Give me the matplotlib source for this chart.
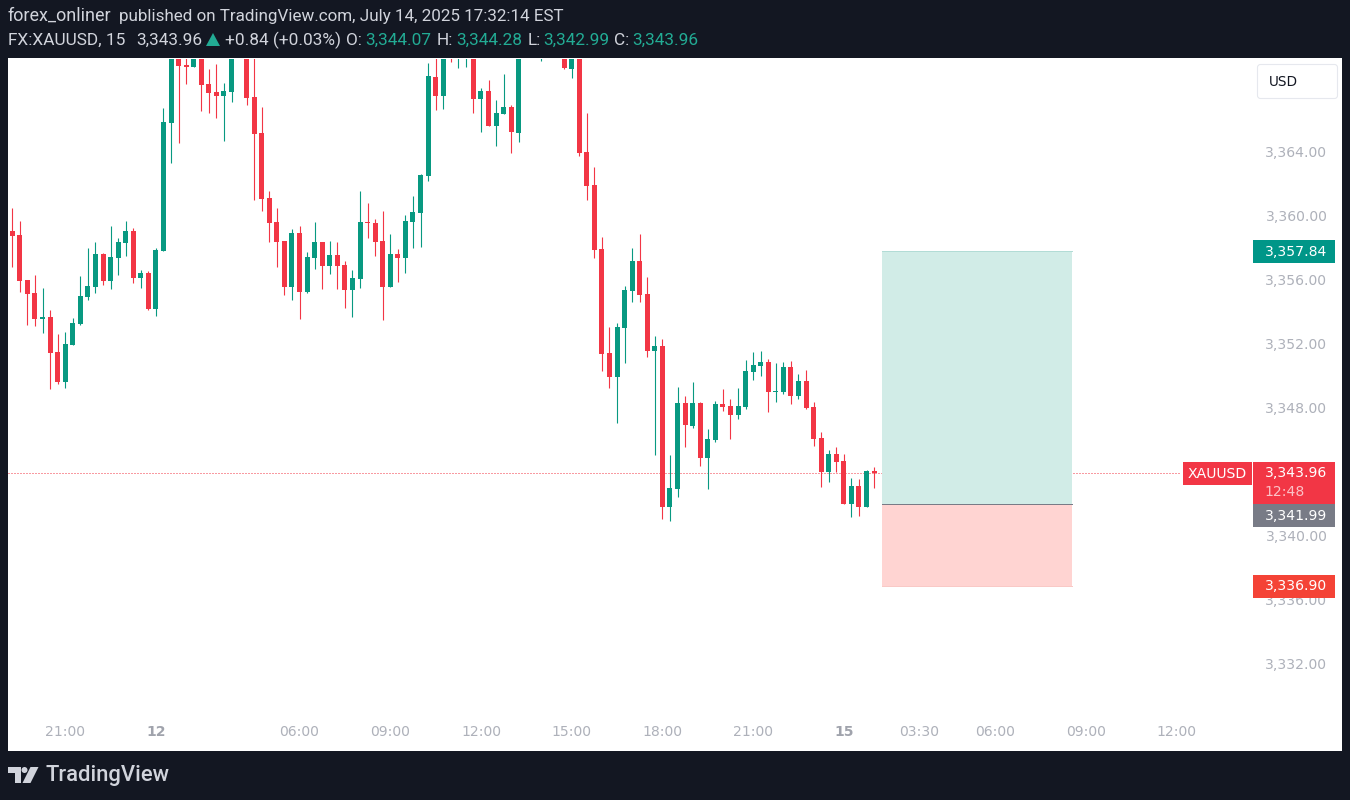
import matplotlib
matplotlib.use('Agg')
import matplotlib.pyplot as plt
from matplotlib.patches import Rectangle, Polygon, Circle, FancyBboxPatch

plt.rcParams['font.family'] = ['Roboto', 'DejaVu Sans']

# candles. bars above the top edge are rough guesses
opens = [3359.06, 3358.81, 3356.00, 3355.19, 3353.56, 3353.69, 3351.50, 3349.63, 3351.94, 3353.25,
         3354.94, 3355.56, 3357.63, 3355.94, 3357.38, 3358.31, 3359.06, 3356.13, 3356.44, 3354.19,
         3357.81, 3365.81, 3371.00, 3369.44, 3369.31, 3370.80, 3368.25, 3367.75, 3367.50, 3367.75,
         3371.00, 3371.40, 3367.44, 3365.19, 3361.13, 3359.63, 3358.44, 3355.56, 3358.94, 3355.25,
         3357.38, 3358.38, 3356.88, 3357.56, 3356.94, 3355.38, 3356.06, 3359.63, 3359.56, 3358.44,
         3355.56, 3357.63, 3357.38, 3359.63, 3360.19, 3362.50, 3368.69, 3367.50, 3371.40, 3370.60,
         3370.80, 3371.20, 3367.31, 3367.81, 3365.63, 3366.38, 3366.81, 3365.19, 3371.00, 3371.60,
         3370.60, 3371.00, 3371.60, 3371.00, 3369.19, 3371.00, 3364.00, 3361.94, 3357.94, 3351.44,
         3349.94, 3353.00, 3355.31, 3357.19, 3355.13, 3351.56, 3351.88, 3341.81, 3342.94, 3348.31,
         3346.88, 3348.31, 3344.88, 3346.00, 3348.25, 3348.13, 3347.56, 3348.06, 3350.25, 3350.63,
         3350.88, 3349.00, 3349.00, 3350.56, 3348.75, 3349.69, 3348.06, 3346.13, 3344.00, 3345.13,
         3344.69, 3342.00, 3343.13, 3341.81, 3344.07]
highs = [3360.50, 3359.69, 3356.00, 3356.31, 3355.50, 3354.13, 3352.63, 3352.75, 3353.63, 3356.25,
         3358.00, 3358.38, 3357.69, 3359.38, 3358.63, 3359.69, 3359.25, 3356.63, 3356.56, 3358.00,
         3366.75, 3371.60, 3371.60, 3370.50, 3371.00, 3371.20, 3369.19, 3369.50, 3368.31, 3371.40,
         3372.00, 3371.80, 3370.50, 3366.81, 3361.56, 3360.50, 3358.44, 3359.19, 3359.38, 3357.75,
         3359.63, 3358.38, 3358.44, 3358.38, 3357.19, 3356.63, 3361.56, 3360.81, 3359.81, 3360.31,
         3358.88, 3357.94, 3360.06, 3361.25, 3362.63, 3369.56, 3370.50, 3371.20, 3371.80, 3371.80,
         3372.00, 3371.80, 3368.00, 3368.50, 3367.25, 3368.88, 3366.94, 3371.40, 3372.00, 3372.00,
         3371.60, 3372.00, 3372.00, 3371.40, 3371.20, 3371.40, 3366.44, 3363.06, 3358.69, 3353.06,
         3353.31, 3355.63, 3358.00, 3358.88, 3356.19, 3352.50, 3352.31, 3345.06, 3349.31, 3348.75,
         3349.63, 3348.38, 3346.69, 3348.44, 3349.19, 3348.56, 3349.25, 3351.00, 3351.50, 3351.56,
         3351.06, 3350.81, 3350.88, 3350.94, 3350.13, 3350.38, 3348.38, 3346.50, 3345.38, 3345.56,
         3345.13, 3343.63, 3343.56, 3344.13, 3344.28]
lows = [3356.81, 3355.25, 3353.19, 3353.13, 3352.69, 3349.19, 3349.50, 3349.25, 3351.94, 3353.19,
        3354.75, 3355.19, 3355.69, 3355.44, 3356.31, 3357.50, 3355.81, 3355.50, 3354.13, 3353.75,
        3357.81, 3363.31, 3364.56, 3368.25, 3369.31, 3366.56, 3366.44, 3366.13, 3364.69, 3367.13,
        3370.50, 3366.94, 3361.00, 3360.31, 3358.38, 3356.81, 3355.06, 3354.75, 3353.56, 3355.19,
        3356.69, 3355.44, 3356.38, 3355.44, 3354.25, 3353.69, 3355.50, 3358.63, 3357.50, 3353.50,
        3355.56, 3355.88, 3356.44, 3358.00, 3358.06, 3362.19, 3366.63, 3366.69, 3369.63, 3369.25,
        3369.31, 3366.44, 3365.25, 3365.63, 3364.38, 3366.38, 3363.94, 3364.63, 3370.40, 3370.40,
        3369.69, 3370.40, 3370.40, 3369.19, 3368.63, 3363.75, 3361.00, 3357.38, 3350.31, 3349.25,
        3347.06, 3350.81, 3354.63, 3354.63, 3351.19, 3345.06, 3341.06, 3340.94, 3342.44, 3345.56,
        3346.75, 3344.38, 3342.94, 3345.88, 3347.81, 3346.06, 3347.31, 3347.94, 3349.75, 3350.00,
        3347.75, 3348.38, 3348.88, 3348.25, 3348.56, 3347.94, 3345.63, 3343.06, 3343.38, 3344.00,
        3342.00, 3341.19, 3341.25, 3341.81, 3342.99]
closes = [3358.75, 3355.94, 3355.13, 3353.56, 3353.69, 3351.44, 3349.63, 3352.00, 3353.31, 3355.00,
          3355.63, 3357.63, 3355.94, 3357.44, 3358.38, 3359.06, 3356.13, 3356.44, 3354.19, 3357.88,
          3365.88, 3371.00, 3369.38, 3369.31, 3370.60, 3368.19, 3367.69, 3367.50, 3367.81, 3371.00,
          3371.60, 3367.38, 3365.13, 3361.06, 3359.56, 3358.38, 3355.56, 3358.94, 3355.25, 3357.44,
          3358.38, 3356.88, 3357.56, 3356.88, 3355.38, 3356.13, 3359.63, 3359.56, 3358.38, 3355.56,
          3357.63, 3357.38, 3359.69, 3360.25, 3362.56, 3368.75, 3367.50, 3370.80, 3370.60, 3371.40,
          3371.60, 3367.31, 3367.81, 3365.63, 3366.44, 3366.81, 3365.25, 3371.00, 3371.60, 3371.00,
          3371.20, 3371.60, 3371.00, 3369.25, 3370.80, 3363.94, 3361.88, 3357.88, 3351.38, 3349.94,
          3353.06, 3355.38, 3357.19, 3355.06, 3351.56, 3351.88, 3341.81, 3343.00, 3348.31, 3346.94,
          3348.31, 3344.88, 3346.06, 3348.25, 3348.06, 3347.56, 3348.13, 3350.31, 3350.69, 3350.88,
          3349.00, 3349.06, 3350.56, 3348.75, 3349.69, 3348.00, 3346.06, 3344.00, 3345.13, 3344.63,
          3342.00, 3343.13, 3341.81, 3344.06, 3343.96]

price_ticks = [3332, 3336, 3340, 3344, 3348, 3352, 3356, 3360, 3364]
price_labels = ['3,332.00', '3,336.00', '3,340.00', '', '3,348.00', '3,352.00', '3,356.00', '3,360.00', '3,364.00']
time_bars = [7, 19, 38, 50, 62, 74, 86, 98, 110, 120, 130, 142, 154]
time_labels = ['21:00', '12', '06:00', '09:00', '12:00', '15:00', '18:00', '21:00', '15', '03:30', '06:00', '09:00', '12:00']

last_price = 3343.96
target_price = 3357.84
entry_price = 3341.99
stop_price = 3336.90

DARK = '#131722'
UP = '#089981'
DOWN = '#f23645'
AXIS_FONT = 'DejaVu Sans'
W, H = 1350, 800

fig = plt.figure(figsize=(13.5, 8), dpi=100, facecolor=DARK)
ax = fig.add_axes([8 / W, 1 - 751 / H, 1334 / W, 693 / H], facecolor='white')
ax.set_xlim(-0.569, 175.9)
ax.set_ylim(3326.56, 3369.875)

# dotted last price line and the long position box
ax.plot([-0.569, 154.6], [last_price, last_price], color=DOWN, lw=0.72, ls=(0, (1, 2)), zorder=1)
ax.fill_between([115.0, 140.2], entry_price, target_price, color='#d1ece7', lw=0, zorder=1.5)
ax.fill_between([115.0, 140.2], stop_price, entry_price, color='#ffd4d2', lw=0, zorder=1.5)
ax.plot([115.0, 140.2], [target_price, target_price], color='#b2dcd6', lw=0.72, zorder=1.6)
ax.plot([115.0, 140.2], [stop_price, stop_price], color='#f9c9c6', lw=0.72, zorder=1.6)
ax.plot([115.0, 140.2], [entry_price, entry_price], color='#787b86', lw=0.72, zorder=1.6)

# candles
for i in range(len(opens)):
    col = UP if closes[i] >= opens[i] else DOWN
    ax.vlines(i, lows[i], highs[i], color=col, lw=0.8, zorder=2)
    ax.bar(i, abs(closes[i] - opens[i]), bottom=min(opens[i], closes[i]),
           width=5 / 7.56, color=col, lw=0, zorder=3)
ax.axhspan(3369.81, 3369.875, color='white', lw=0, zorder=4)

ax.yaxis.tick_right()
ax.set_yticks(price_ticks)
ax.set_yticklabels(price_labels, ha='right', family=AXIS_FONT)
ax.tick_params(axis='y', length=0, pad=-10.5, labelsize=10.1, labelcolor='#aeb1ba')
ax.set_xticks(time_bars)
ax.set_xticklabels(time_labels, family=AXIS_FONT)
ax.tick_params(axis='x', length=0, pad=-18.5, labelsize=10.1, labelcolor='#aeb1ba')
for lab in ax.get_xticklabels():
    if lab.get_text() in ('12', '15'):
        lab.set_fontweight('bold')
        lab.set_color('#a0a3ac')
for side in ax.spines.values():
    side.set_visible(False)

# overlay in pixels for header, badges and logo
ov = fig.add_axes([0, 0, 1, 1], facecolor='none', zorder=5)
ov.set_xlim(0, W)
ov.set_ylim(H, 0)
ov.axis('off')

ov.text(8, 16, 'forex_onliner', color='#d1d4dc', fontsize=13, va='center')
ov.text(119, 16, 'published on TradingView.com, July 14, 2025 17:32:14 EST',
        color='#d1d4dc', fontsize=12.25, va='center')
head = [(8, 'FX:XAUUSD, 15', '#d1d4dc'), (136, '3,343.96', '#d1d4dc'),
        (225, '+0.84 (+0.03%)', '#d1d4dc'), (346, 'O:', '#d1d4dc'), (365, '3,344.07', '#22ab94'),
        (437, 'H:', '#d1d4dc'), (456, '3,344.28', '#22ab94'), (528, 'L:', '#d1d4dc'),
        (543, '3,342.99', '#22ab94'), (614, 'C:', '#d1d4dc'), (632, '3,343.96', '#22ab94')]
for x, s, c in head:
    ov.text(x, 40.5, s, color=c, fontsize=12.4, va='center')
ov.add_patch(Polygon([(206, 46), (220, 46), (213, 33)], color='#22ab94', lw=0))

# USD button
ov.add_patch(FancyBboxPatch((1259.5, 66.5), 76, 30, boxstyle='round,pad=2,rounding_size=3',
                            fc='white', ec='#e6e8ee', lw=0.8))
ov.text(1283.5, 82, 'USD', color='#131722', fontsize=9.8, family=AXIS_FONT, ha='center', va='center')


def badge(y0, y1, text, color, x0=1253, x1=1335, tx=1327):
    ov.add_patch(Rectangle((x0, y0), x1 - x0, y1 - y0, fc=color, lw=0))
    ov.text(tx, (y0 + y1) / 2, text, color='white', fontsize=10.1, family=AXIS_FONT, ha='right', va='center')


badge(240, 263, '3,357.84', '#009688')
badge(575, 598, '3,336.90', '#f44336')
ov.add_patch(Rectangle((1253, 462), 82, 42, fc=DOWN, lw=0))
ov.text(1327, 473, '3,343.96', color='white', fontsize=10.1, family=AXIS_FONT, ha='right', va='center')
ov.text(1264, 492, '12:48', color='#fbc2c7', fontsize=10.1, family=AXIS_FONT, ha='left', va='center')
badge(504, 527, '3,341.99', '#787b86')
badge(462, 485, 'XAUUSD', DOWN, x0=1183, x1=1252, tx=1247)

# logo
ov.add_patch(Polygon([(8, 767), (21, 767), (21, 783), (15, 783), (15, 773), (8, 773)], color='#d1d4dc', lw=0))
ov.add_patch(Circle((24.5, 770), 3, color='#d1d4dc', lw=0))
ov.add_patch(Polygon([(30.5, 767), (38.5, 767), (30.5, 783), (22.5, 783)], color='#d1d4dc', lw=0))
ov.text(45, 776, 'TradingView', color='#d1d4dc', fontsize=15.8, fontweight='medium', va='center')

fig.savefig('out.png', dpi=100, facecolor=DARK)
